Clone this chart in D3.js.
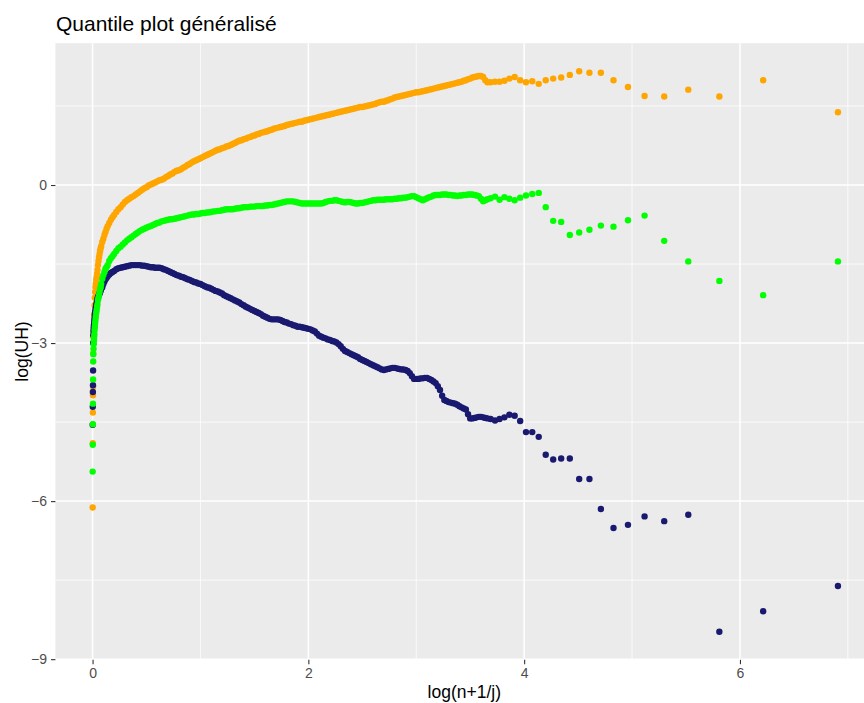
<!DOCTYPE html>
<html>
<head>
<meta charset="utf-8">
<script src="https://cdn.jsdelivr.net/npm/d3@7"></script>
<style>
  body { margin: 0; background: #ffffff; }
  svg text { font-family: "Liberation Sans", Arial, sans-serif; }
</style>
</head>
<body>
<svg id="chart" width="864" height="703"></svg>
<script>
// x = log((n+1)/j), shared by the three estimators
const logRank = [
  0.001, 0.002, 0.003, 0.004, 0.005, 0.006,
  0.007, 0.009, 0.011, 0.013, 0.015, 0.017, 0.019, 0.021,
  0.024, 0.027, 0.030, 0.034, 0.038, 0.042, 0.046, 0.050,
  0.055, 0.060, 0.065, 0.070, 0.075, 0.080, 0.090, 0.100,
  0.110, 0.120, 0.130, 0.140, 0.155, 0.170, 0.185, 0.200,
  0.220, 0.240, 0.260, 0.280,
  0.30, 0.32, 0.34, 0.36, 0.38, 0.40, 0.42, 0.44, 0.46, 0.48,
  0.50, 0.52, 0.54, 0.56, 0.58, 0.60, 0.62, 0.64, 0.66, 0.68,
  0.70, 0.72, 0.74, 0.76, 0.78, 0.80, 0.82, 0.84, 0.86, 0.88,
  0.90, 0.92, 0.94, 0.96, 0.98, 1.00, 1.02, 1.04, 1.06, 1.08,
  1.10, 1.12, 1.14, 1.16, 1.18, 1.20, 1.22, 1.24, 1.26, 1.28,
  1.30, 1.32, 1.34, 1.36, 1.38, 1.40, 1.42, 1.44, 1.46, 1.48,
  1.50, 1.52, 1.54, 1.56, 1.58, 1.60, 1.62, 1.64, 1.66, 1.68,
  1.70, 1.72, 1.74, 1.76, 1.78, 1.80, 1.82, 1.84, 1.86, 1.88,
  1.90, 1.92, 1.94, 1.96, 1.98, 2.00, 2.02, 2.04, 2.06, 2.08,
  2.10, 2.12, 2.14, 2.16, 2.18, 2.20, 2.22, 2.24, 2.26, 2.28,
  2.30, 2.32, 2.34, 2.36, 2.38, 2.40, 2.42, 2.44, 2.46, 2.48,
  2.50, 2.52, 2.54, 2.56, 2.58, 2.60, 2.62, 2.64, 2.66, 2.68,
  2.70, 2.72, 2.74, 2.76, 2.78, 2.80, 2.82, 2.84, 2.86, 2.88,
  2.90, 2.92, 2.94, 2.96, 2.98, 3.00, 3.02, 3.04, 3.06, 3.08,
  3.10, 3.12, 3.14, 3.16, 3.18, 3.20, 3.22, 3.24, 3.26, 3.28,
  3.30, 3.32, 3.34, 3.36, 3.38, 3.40, 3.42, 3.44, 3.46, 3.48,
  3.50, 3.52, 3.54, 3.56, 3.58, 3.60, 3.62, 3.64, 3.66,
  3.689, 3.730, 3.772, 3.817, 3.863, 3.912, 3.963, 4.017, 4.075, 4.135,
  4.200, 4.269, 4.343, 4.423, 4.510, 4.605, 4.711, 4.828, 4.962, 5.116,
  5.298, 5.521, 5.809, 6.215, 6.908
];

// log(UH) for each series, same order as logRank
const uhOrange = [
  -6.12, -4.90, -4.32, -3.99, -3.83, -3.19,
  -2.88, -2.81, -2.73, -2.66, -2.56, -2.45, -2.28, -2.14,
  -2.03, -1.94, -1.88, -1.80, -1.75, -1.69, -1.61, -1.52,
  -1.44, -1.37, -1.31, -1.25, -1.20, -1.16, -1.08, -1.02,
  -0.95, -0.89, -0.83, -0.78, -0.72, -0.66, -0.61, -0.57,
  -0.51, -0.46, -0.42, -0.37,
  -0.32, -0.29, -0.26, -0.23, -0.21, -0.18, -0.15, -0.12, -0.09, -0.06,
  -0.04, -0.01, 0.01, 0.03, 0.05, 0.07, 0.09, 0.10, 0.12, 0.15,
  0.17, 0.20, 0.22, 0.25, 0.27, 0.28, 0.30, 0.33, 0.35, 0.38,
  0.40, 0.43, 0.45, 0.47, 0.49, 0.51, 0.53, 0.55, 0.57, 0.59,
  0.61, 0.63, 0.65, 0.67, 0.68, 0.70, 0.71, 0.73, 0.74, 0.76,
  0.78, 0.80, 0.82, 0.84, 0.85, 0.87, 0.88, 0.90, 0.91, 0.93,
  0.94, 0.96, 0.97, 0.99, 1.00, 1.01, 1.02, 1.04, 1.05, 1.07,
  1.08, 1.09, 1.10, 1.11, 1.12, 1.14, 1.15, 1.16, 1.17, 1.18,
  1.19, 1.20, 1.20, 1.22, 1.23, 1.24, 1.25, 1.26, 1.27, 1.28,
  1.29, 1.30, 1.31, 1.32, 1.33, 1.34, 1.35, 1.36, 1.37, 1.38,
  1.39, 1.40, 1.41, 1.42, 1.43, 1.44, 1.45, 1.46, 1.47, 1.48,
  1.48, 1.49, 1.50, 1.51, 1.52, 1.53, 1.54, 1.56, 1.57, 1.58,
  1.58, 1.60, 1.61, 1.63, 1.64, 1.66, 1.67, 1.68, 1.69, 1.70,
  1.71, 1.72, 1.73, 1.74, 1.75, 1.76, 1.76, 1.77, 1.78, 1.79,
  1.80, 1.81, 1.82, 1.83, 1.84, 1.85, 1.86, 1.87, 1.88, 1.89,
  1.90, 1.91, 1.92, 1.93, 1.94, 1.95, 1.96, 1.98, 1.99, 2.01,
  2.02, 2.04, 2.05, 2.06, 2.07, 2.07, 2.05, 1.99, 1.95,
  1.95, 1.96, 1.96, 1.98, 2.02, 2.05, 1.99, 1.95, 1.97, 1.92,
  1.99, 2.02, 2.04, 2.09, 2.16, 2.13, 2.13, 1.99, 1.86, 1.69,
  1.68, 1.81, 1.68, 1.99, 1.38
];

const uhGreen = [
  -5.44, -4.93, -4.54, -4.15, -3.69, -3.35,
  -3.21, -3.11, -3.02, -2.94, -2.88, -2.83, -2.75, -2.69,
  -2.62, -2.56, -2.50, -2.43, -2.37, -2.31, -2.26, -2.18,
  -2.14, -2.09, -2.03, -1.97, -1.94, -1.88, -1.78, -1.71,
  -1.65, -1.59, -1.56, -1.52, -1.44, -1.39, -1.35, -1.31,
  -1.25, -1.20, -1.17, -1.13,
  -1.09, -1.05, -1.02, -0.99, -0.96, -0.93, -0.90, -0.87, -0.85, -0.83,
  -0.81, -0.79, -0.78, -0.76, -0.74, -0.72, -0.71, -0.69, -0.68, -0.67,
  -0.66, -0.65, -0.65, -0.64, -0.63, -0.62, -0.61, -0.60, -0.59, -0.58,
  -0.57, -0.56, -0.56, -0.55, -0.55, -0.54, -0.53, -0.53, -0.52, -0.52,
  -0.51, -0.50, -0.50, -0.49, -0.49, -0.48, -0.47, -0.46, -0.46, -0.46,
  -0.46, -0.45, -0.44, -0.44, -0.43, -0.42, -0.42, -0.42, -0.41, -0.41,
  -0.41, -0.40, -0.40, -0.40, -0.40, -0.39, -0.39, -0.38, -0.38, -0.37,
  -0.36, -0.35, -0.34, -0.33, -0.32, -0.31, -0.31, -0.31, -0.31, -0.32,
  -0.33, -0.34, -0.35, -0.35, -0.35, -0.35, -0.35, -0.35, -0.35, -0.35,
  -0.35, -0.35, -0.34, -0.32, -0.31, -0.30, -0.30, -0.29, -0.29, -0.30,
  -0.31, -0.32, -0.33, -0.32, -0.32, -0.33, -0.34, -0.35, -0.35, -0.34,
  -0.34, -0.33, -0.32, -0.31, -0.30, -0.29, -0.29, -0.28, -0.28, -0.28,
  -0.28, -0.27, -0.27, -0.27, -0.27, -0.26, -0.26, -0.25, -0.25, -0.24,
  -0.24, -0.23, -0.22, -0.21, -0.21, -0.23, -0.25, -0.27, -0.29, -0.27,
  -0.25, -0.23, -0.22, -0.20, -0.19, -0.19, -0.19, -0.18, -0.18, -0.18,
  -0.19, -0.19, -0.20, -0.20, -0.21, -0.20, -0.20, -0.19, -0.19, -0.18,
  -0.18, -0.18, -0.19, -0.20, -0.21, -0.26, -0.31, -0.29, -0.27,
  -0.25, -0.22, -0.28, -0.23, -0.26, -0.29, -0.24, -0.20, -0.17, -0.15,
  -0.42, -0.68, -0.70, -0.95, -0.90, -0.85, -0.77, -0.79, -0.67, -0.58,
  -1.06, -1.45, -1.82, -2.09, -1.45
];

const uhNavy = [
  -4.55, -4.21, -3.93, -3.80, -3.52, -3.00,
  -2.85, -2.77, -2.71, -2.66, -2.62, -2.56, -2.50, -2.45,
  -2.41, -2.37, -2.33, -2.28, -2.24, -2.20, -2.16, -2.13,
  -2.11, -2.08, -2.06, -2.03, -2.00, -1.97, -1.94, -1.88,
  -1.83, -1.79, -1.76, -1.73, -1.70, -1.67, -1.65, -1.63,
  -1.60, -1.58, -1.57, -1.56,
  -1.55, -1.54, -1.53, -1.52, -1.52, -1.52, -1.52, -1.52, -1.53, -1.53,
  -1.54, -1.55, -1.56, -1.56, -1.57, -1.57, -1.57, -1.58, -1.60, -1.61,
  -1.63, -1.65, -1.67, -1.69, -1.71, -1.72, -1.74, -1.75, -1.77, -1.79,
  -1.80, -1.82, -1.84, -1.85, -1.87, -1.88, -1.90, -1.92, -1.94, -1.95,
  -1.97, -1.99, -2.01, -2.02, -2.04, -2.06, -2.09, -2.11, -2.13, -2.15,
  -2.17, -2.19, -2.21, -2.23, -2.26, -2.28, -2.31, -2.33, -2.35, -2.37,
  -2.39, -2.41, -2.43, -2.45, -2.48, -2.50, -2.52, -2.54, -2.55, -2.55,
  -2.55, -2.55, -2.56, -2.58, -2.60, -2.61, -2.63, -2.64, -2.66, -2.67,
  -2.69, -2.69, -2.70, -2.71, -2.72, -2.73, -2.74, -2.76, -2.78, -2.82,
  -2.86, -2.88, -2.90, -2.91, -2.93, -2.94, -2.96, -2.97, -2.99, -3.02,
  -3.06, -3.11, -3.15, -3.17, -3.19, -3.21, -3.23, -3.25, -3.27, -3.30,
  -3.32, -3.34, -3.36, -3.38, -3.40, -3.42, -3.44, -3.46, -3.48, -3.50,
  -3.51, -3.50, -3.49, -3.48, -3.47, -3.47, -3.48, -3.49, -3.50, -3.50,
  -3.51, -3.53, -3.57, -3.63, -3.68, -3.68, -3.68, -3.67, -3.67, -3.66,
  -3.66, -3.68, -3.70, -3.73, -3.76, -3.82, -3.89, -4.00, -4.08, -4.10,
  -4.12, -4.13, -4.14, -4.15, -4.17, -4.20, -4.22, -4.24, -4.26, -4.35,
  -4.43, -4.43, -4.42, -4.41, -4.40, -4.40, -4.41, -4.42, -4.43,
  -4.44, -4.47, -4.44, -4.41, -4.36, -4.38, -4.48, -4.69, -4.69, -4.78,
  -5.12, -5.21, -5.19, -5.19, -5.58, -5.58, -6.15, -6.51, -6.45, -6.29,
  -6.38, -6.26, -8.48, -8.09, -7.61
];

const xTicks = [0, 2, 4, 6];
const xMinorBreaks = [1, 3, 5, 7];
const yTicks = [0, -3, -6, -9];
const yMinorBreaks = [1.5, -1.5, -4.5, -7.5];

const titleText = "Quantile plot généralisé";
const xTitle = "log(n+1/j)";
const yTitle = "log(UH)";

// drawing order: orange first, green last (on top)
const series = [
  { key: "orange", color: "#FFA500", values: uhOrange },
  { key: "navy",   color: "#191970", values: uhNavy },
  { key: "green",  color: "#00FF00", values: uhGreen }
];

const svg = d3.select("#chart");
const panel = { left: 55.4, right: 875.2, top: 43.2, bottom: 659.8 };

// ggplot-style 5% padding around the data range
function padded(ext) {
  const d = (ext[1] - ext[0]) * 0.05;
  return [ext[0] - d, ext[1] + d];
}
const allY = uhOrange.concat(uhGreen, uhNavy);
const x = d3.scaleLinear().domain(padded(d3.extent(logRank))).range([panel.left, panel.right]);
const y = d3.scaleLinear().domain(padded(d3.extent(allY))).range([panel.bottom, panel.top]);

// panel background
svg.append("rect")
  .attr("x", panel.left).attr("y", panel.top)
  .attr("width", panel.right - panel.left)
  .attr("height", panel.bottom - panel.top)
  .attr("fill", "#EBEBEB");

const grid = svg.append("g");
grid.selectAll(".vminor").data(xMinorBreaks).join("line")
  .attr("x1", d => x(d)).attr("x2", d => x(d))
  .attr("y1", panel.top).attr("y2", panel.bottom)
  .attr("stroke", "#ffffff").attr("stroke-width", 0.75);
grid.selectAll(".hminor").data(yMinorBreaks).join("line")
  .attr("y1", d => y(d)).attr("y2", d => y(d))
  .attr("x1", panel.left).attr("x2", panel.right)
  .attr("stroke", "#ffffff").attr("stroke-width", 0.75);
grid.selectAll(".vmajor").data(xTicks).join("line")
  .attr("x1", d => x(d)).attr("x2", d => x(d))
  .attr("y1", panel.top).attr("y2", panel.bottom)
  .attr("stroke", "#ffffff").attr("stroke-width", 1.5);
grid.selectAll(".hmajor").data(yTicks).join("line")
  .attr("y1", d => y(d)).attr("y2", d => y(d))
  .attr("x1", panel.left).attr("x2", panel.right)
  .attr("stroke", "#ffffff").attr("stroke-width", 1.5);

// points
series.forEach(s => {
  svg.append("g").selectAll("circle")
    .data(logRank.map((v, i) => [v, s.values[i]]))
    .join("circle")
    .attr("cx", d => x(d[0]))
    .attr("cy", d => y(d[1]))
    .attr("r", 3.2)
    .attr("fill", s.color);
});

// axes
const xAxis = svg.append("g")
  .attr("transform", `translate(0,${panel.bottom})`)
  .call(d3.axisBottom(x).tickValues(xTicks).tickFormat(d3.format("d")).tickSize(4.4).tickPadding(4));
const yAxis = svg.append("g")
  .attr("transform", `translate(${panel.left},0)`)
  .call(d3.axisLeft(y).tickValues(yTicks).tickFormat(d3.format("d")).tickSize(4.4).tickPadding(4));

[xAxis, yAxis].forEach(a => {
  a.select(".domain").remove();
  a.selectAll(".tick line").attr("stroke", "#333333").attr("stroke-width", 1.1);
  a.selectAll(".tick text")
    .attr("fill", "#4D4D4D")
    .style("font-size", "14px")
    .style("font-family", "'Liberation Sans', Arial, sans-serif");
});

// titles
svg.append("text")
  .attr("x", 56).attr("y", 31)
  .style("font-size", "21px")
  .attr("fill", "#000000")
  .text(titleText);

svg.append("text")
  .attr("x", (panel.left + panel.right) / 2 - 1)
  .attr("y", 698)
  .attr("text-anchor", "middle")
  .style("font-size", "17.5px")
  .attr("fill", "#000000")
  .text(xTitle);

svg.append("text")
  .attr("transform", `translate(28,${(panel.top + panel.bottom) / 2}) rotate(-90)`)
  .attr("text-anchor", "middle")
  .style("font-size", "17.5px")
  .attr("fill", "#000000")
  .text(yTitle);
</script>
</body>
</html>
